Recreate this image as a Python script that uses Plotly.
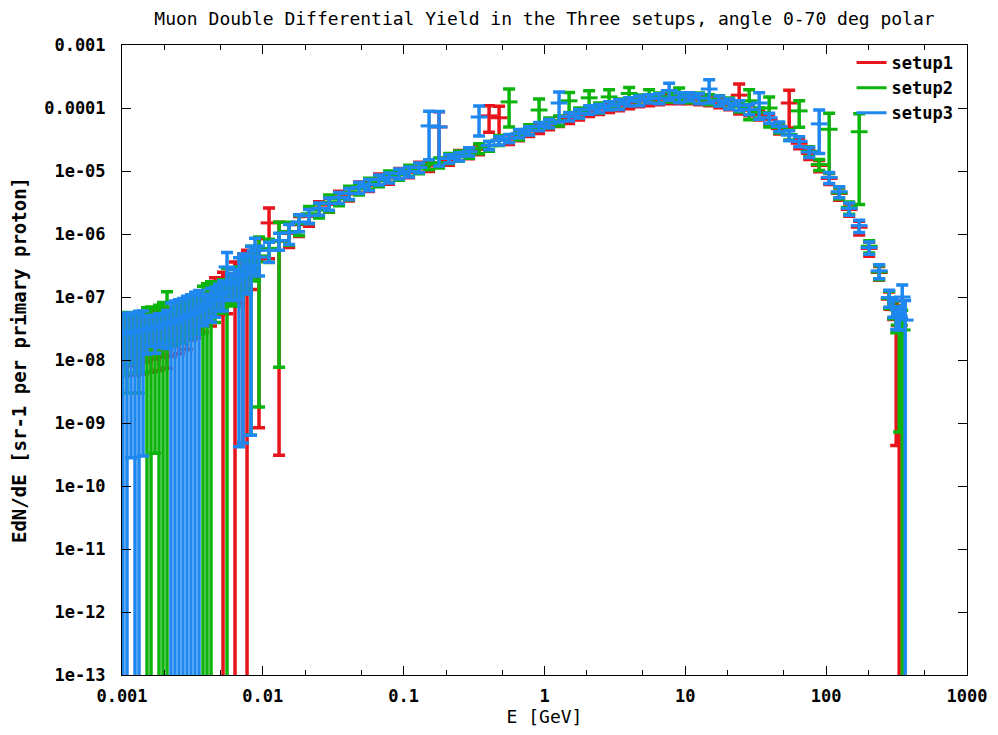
import plotly.graph_objects as go

# ---------------- DATA ----------------
energy_gev = [
    # 0.001 - 0.01 GeV
    1.016e-3, 1.085e-3, 1.159e-3, 1.237e-3, 1.320e-3, 1.410e-3, 1.505e-3, 1.607e-3, 1.716e-3, 1.832e-3,
    1.956e-3, 2.088e-3, 2.228e-3, 2.379e-3, 2.540e-3, 2.712e-3, 2.895e-3, 3.091e-3, 3.300e-3, 3.523e-3,
    3.761e-3, 4.015e-3, 4.287e-3, 4.576e-3, 4.886e-3, 5.216e-3, 5.568e-3, 5.945e-3, 6.347e-3, 6.776e-3,
    7.234e-3, 7.723e-3, 8.245e-3, 8.803e-3, 9.397e-3,
    # 0.01 - 300 GeV
    0.01107, 0.01304, 0.01536, 0.01808, 0.02129, 0.02507, 0.02953, 0.03477, 0.04095, 0.04822,
    0.05679, 0.06688, 0.07876, 0.09275, 0.1092, 0.1286, 0.1515, 0.1784, 0.2101, 0.2474,
    0.2914, 0.3431, 0.4041, 0.4759, 0.5604, 0.6600, 0.7772, 0.9153, 1.078, 1.269,
    1.495, 1.761, 2.074, 2.442, 2.876, 3.387, 3.989, 4.698, 5.533, 6.515,
    7.673, 9.037, 10.64, 12.53, 14.76, 17.39, 20.47, 24.11, 28.40, 33.44,
    39.39, 46.39, 54.63, 64.34, 75.77, 89.24, 105.0, 123.7, 145.7, 171.6,
    202.1, 238.0, 280.3,
    # end point
    299.2, 314.2, 330.0, 346.7, 364.0,
]

setup1_yield = [
    2.6e-8, 2.8e-8, 2.7e-8, 2.9e-8, 2.8e-8, 3.0e-8, 3.1e-8, 3.2e-8, 3.4e-8, 3.4e-8,
    3.7e-8, 3.7e-8, 3.8e-8, 4.1e-8, 4.2e-8, 4.6e-8, 4.9e-8, 5.2e-8, 5.6e-8, 6.1e-8,
    6.8e-8, 7.7e-8, 8.7e-8, 1.3e-7, 1.05e-7, 1.2e-7, 1.35e-7, 1.55e-7, 1.75e-7, 2.0e-7,
    2.4e-7, 2.7e-7, 3.3e-7, 3.8e-7, 4.2e-7,
    1.5e-6, 7.7e-7, 1.02e-6, 1.4e-6, 1.9e-6, 2.6e-6, 2.95e-6, 3.9e-6, 4.3e-6, 5.6e-6,
    5.9e-6, 7.5e-6, 7.7e-6, 9.3e-6, 9.5e-6, 1.17e-5, 1.2e-5, 5.0e-5, 1.5e-5, 1.79e-5,
    1.9e-5, 2.2e-5, 7.5e-5, 7.0e-5, 3.2e-5, 3.7e-5, 4.3e-5, 4.8e-5, 5.5e-5, 6.2e-5,
    6.9e-5, 7.9e-5, 8.9e-5, 9.6e-5, 1.03e-4, 1.1e-4, 1.19e-4, 1.28e-4, 1.32e-4, 1.37e-4,
    1.42e-4, 1.43e-4, 1.42e-4, 1.37e-4, 1.32e-4, 1.23e-4, 1.14e-4, 1.6e-4, 9.2e-5, 7.9e-5,
    6.6e-5, 4.7e-5, 1.2e-4, 2.75e-5, 1.9e-5, 1.22e-5, 7.6e-6, 4.4e-6, 2.45e-6, 1.28e-6,
    5.9e-7, 2.45e-7, 9.2e-8,
    6.3e-8, 4.4e-8, 3.5e-8, None, None,
]
setup1_relerr = [
    0.7, 0.8, 0.7, 0.8, 0.7, 0.8, 0.7, 0.8, 0.7, 0.8,
    0.7, 0.8, 0.7, 0.6, 0.7, 0.6, 0.7, 0.6, 0.6, 0.5,
    0.6, 0.5, 0.6, 0.55, 0.5, 1.05, 0.6, 0.5, 1.05, 0.6,
    0.998, 1.05, 0.6, 0.5, 0.998,
    0.73, 0.9996, 0.4, 0.35, 0.3, 0.25, 0.25, 0.22, 0.22, 0.2,
    0.2, 0.2, 0.2, 0.18, 0.18, 0.18, 0.18, 0.75, 0.18, 0.18,
    0.18, 0.18, 0.45, 0.52, 0.18, 0.18, 0.18, 0.18, 0.18, 0.18,
    0.18, 0.18, 0.18, 0.18, 0.18, 0.18, 0.18, 0.18, 0.18, 0.18,
    0.18, 0.18, 0.18, 0.18, 0.18, 0.18, 0.18, 0.5, 0.18, 0.18,
    0.18, 0.18, 0.6, 0.18, 0.2, 0.2, 0.2, 0.22, 0.22, 0.25,
    0.25, 0.25, 0.3,
    0.3, 0.99, 1.05, None, None,
]

setup2_yield = [
    2.8e-8, 3.0e-8, 2.9e-8, 3.1e-8, 3.0e-8, 3.2e-8, 3.3e-8, 3.4e-8, 3.3e-8, 3.6e-8,
    4.0e-8, 6.0e-8, 4.0e-8, 4.3e-8, 4.5e-8, 4.7e-8, 5.2e-8, 5.5e-8, 6.0e-8, 6.4e-8,
    7.2e-8, 7.9e-8, 8.5e-8, 9.8e-8, 1.1e-7, 1.25e-7, 1.4e-7, 1.5e-7, 1.8e-7, 2.0e-7,
    2.5e-7, 2.7e-7, 3.2e-7, 3.6e-7, 4.5e-7,
    5.9e-7, 7.7e-7, 1.1e-6, 1.45e-6, 2.1e-6, 2.4e-6, 3.2e-6, 3.6e-6, 4.6e-6, 5.2e-6,
    6.4e-6, 7.0e-6, 8.3e-6, 8.7e-6, 1.03e-5, 1.1e-5, 1.28e-5, 1.36e-5, 1.6e-5, 1.76e-5,
    1.95e-5, 2.3e-5, 2.5e-5, 3.1e-5, 1.25e-4, 3.8e-5, 4.6e-5, 9.3e-5, 5.9e-5, 6.3e-5,
    1.3e-4, 8.5e-5, 1.45e-4, 1.02e-4, 1.5e-4, 1.18e-4, 1.7e-4, 1.36e-4, 1.6e-4, 1.46e-4,
    1.52e-4, 1.7e-4, 1.48e-4, 1.46e-4, 1.37e-4, 1.33e-4, 1.22e-4, 1.05e-4, 1.3e-4, 8.5e-5,
    1.0e-4, 4.9e-5, 3.8e-5, 9.0e-5, 2.05e-5, 1.27e-5, 4.6e-5, 4.5e-6, 2.65e-6, 4.2e-5,
    6.4e-7, 2.5e-7, 9.5e-8,
    6.5e-8, 4.5e-8, 3.6e-8, 3.0e-8, None,
]
setup2_relerr = [
    0.8, 0.9, 0.7, 0.8, 0.9, 0.8, 1.05, 1.05, 0.99, 1.05,
    1.05, 1.02, 0.5, 0.6, 0.5, 0.6, 0.5, 0.6, 0.5, 0.6,
    1.05, 1.05, 1.05, 0.6, 0.5, 0.5, 1.05, 0.5, 0.6, 0.5,
    0.55, 0.5, 0.998, 0.5, 0.996,
    0.4, 0.99, 0.4, 0.35, 0.3, 0.25, 0.3, 0.22, 0.25, 0.2,
    0.2, 0.2, 0.2, 0.18, 0.2, 0.18, 0.18, 0.18, 0.18, 0.18,
    0.18, 0.18, 0.18, 0.18, 0.6, 0.18, 0.18, 0.5, 0.18, 0.18,
    0.35, 0.18, 0.3, 0.18, 0.3, 0.18, 0.25, 0.18, 0.22, 0.18,
    0.18, 0.22, 0.18, 0.18, 0.18, 0.18, 0.18, 0.18, 0.5, 0.18,
    0.5, 0.18, 0.18, 0.45, 0.18, 0.2, 0.8, 0.2, 0.22, 0.93,
    0.22, 0.25, 0.3,
    0.3, 0.4, 0.98, 1.05, None,
]

setup3_yield = [
    2.7e-8, 2.6e-8, 2.8e-8, 2.7e-8, 2.9e-8, 3.0e-8, 3.1e-8, 3.3e-8, 3.2e-8, 3.5e-8,
    3.6e-8, 3.8e-8, 3.9e-8, 4.2e-8, 4.4e-8, 4.6e-8, 5.0e-8, 5.3e-8, 5.8e-8, 6.2e-8,
    7.0e-8, 7.6e-8, 8.8e-8, 9.5e-8, 1.1e-7, 1.2e-7, 3.0e-7, 1.6e-7, 1.8e-7, 2.1e-7,
    2.4e-7, 2.8e-7, 3.2e-7, 5.5e-7, 4.3e-7,
    5.5e-7, 7.9e-7, 1.05e-6, 1.55e-6, 1.95e-6, 2.55e-6, 3.05e-6, 3.8e-6, 4.4e-6, 5.5e-6,
    6.1e-6, 7.3e-6, 7.9e-6, 9.1e-6, 9.8e-6, 1.14e-5, 5.2e-5, 5.0e-5, 1.58e-5, 1.70e-5,
    2.03e-5, 7.2e-5, 2.55e-5, 3.05e-5, 3.3e-5, 3.95e-5, 4.4e-5, 5.1e-5, 5.7e-5, 1.2e-4,
    7.3e-5, 8.2e-5, 9.4e-5, 9.9e-5, 1.09e-4, 1.15e-4, 1.27e-4, 1.32e-4, 1.41e-4, 1.43e-4,
    1.9e-4, 1.48e-4, 1.52e-4, 1.43e-4, 2.0e-4, 1.31e-4, 1.18e-4, 1.1e-4, 9.5e-5, 1.2e-4,
    7.0e-5, 5.1e-5, 3.7e-5, 2.95e-5, 2.0e-5, 5.6e-5, 7.9e-6, 4.7e-6, 2.55e-6, 1.36e-6,
    6.1e-7, 2.6e-7, 9.8e-8,
    6.8e-8, 4.7e-8, 5.0e-8, 1.0e-7, 4.3e-8,
]
setup3_relerr = [
    1.05, 1.05, 0.99, 1.05, 1.05, 0.99, 0.6, 0.5, 0.6, 0.55,
    0.5, 0.6, 1.05, 1.05, 1.05, 1.05, 1.05, 1.05, 1.05, 1.05,
    0.5, 0.45, 0.55, 0.5, 0.45, 0.5, 0.7, 0.45, 0.5, 0.998,
    0.998, 0.6, 0.998, 0.55, 0.5,
    0.35, 0.3, 0.35, 0.3, 0.25, 0.22, 0.22, 0.2, 0.2, 0.2,
    0.2, 0.18, 0.18, 0.18, 0.18, 0.18, 0.71, 0.76, 0.15, 0.15,
    0.15, 0.5, 0.15, 0.15, 0.15, 0.15, 0.15, 0.15, 0.15, 0.5,
    0.15, 0.15, 0.15, 0.15, 0.15, 0.18, 0.15, 0.18, 0.15, 0.18,
    0.3, 0.18, 0.15, 0.18, 0.4, 0.18, 0.18, 0.18, 0.18, 0.45,
    0.18, 0.18, 0.18, 0.18, 0.18, 0.66, 0.2, 0.2, 0.22, 0.22,
    0.22, 0.25, 0.3,
    0.3, 0.35, 0.4, 0.55, 1.05,
]

series_names = ["setup1", "setup2", "setup3"]
series_colors = ["#e8141c", "#0cb40c", "#1e88f0"]

x_tickvals = [0.001, 0.01, 0.1, 1, 10, 100, 1000]
x_ticktext = ["0.001", "0.01", "0.1", "1", "10", "100", "1000"]
y_tickvals = [1e-3, 1e-4, 1e-5, 1e-6, 1e-7, 1e-8, 1e-9, 1e-10, 1e-11, 1e-12, 1e-13]
y_ticktext = ["0.001", "0.0001", "1e-05", "1e-06", "1e-07", "1e-08", "1e-09",
              "1e-10", "1e-11", "1e-12", "1e-13"]

title_text = "Muon Double Differential Yield in the Three setups, angle 0-70 deg polar"
x_title = "E [GeV]"
y_title = "EdN/dE [sr-1 per primary proton]"

# ---------------- FIGURE ----------------
MONO = "DejaVu Sans Mono"
fig = go.Figure()

all_series = [
    (setup1_yield, setup1_relerr),
    (setup2_yield, setup2_relerr),
    (setup3_yield, setup3_relerr),
]

for (yv, rel), name, col in zip(all_series, series_names, series_colors):
    err = [None if (y is None or r is None) else y * r for y, r in zip(yv, rel)]
    fig.add_trace(go.Scatter(
        x=energy_gev, y=yv, mode="markers", name=name, legendgroup=name,
        showlegend=False,
        marker=dict(symbol="line-ew", size=12, color=col,
                    line=dict(width=3, color=col)),
        error_y=dict(type="data", array=err, symmetric=True,
                     color=col, thickness=3.5, width=6),
    ))

# legend entries (line samples)
for name, col in zip(series_names, series_colors):
    fig.add_trace(go.Scatter(
        x=[None], y=[None], mode="lines", name=name, legendgroup=name,
        line=dict(color=col, width=3), showlegend=True,
    ))

axis_common = dict(
    type="log", showgrid=False, zeroline=False, automargin=False,
    showline=True, linecolor="black", linewidth=1, mirror="ticks",
    ticks="inside", ticklen=9, tickwidth=1, tickcolor="black",
    tickfont=dict(family=MONO, size=17, color="black", weight="bold"),
)

# the page body has an 8px margin on every side, so the figure is sized
# to make the whole page exactly fill the 998x735 window
fig.update_layout(
    width=982, height=719,
    margin=dict(l=114, r=23, t=37, b=52, autoexpand=False),
    plot_bgcolor="white", paper_bgcolor="white",
    title=dict(text=title_text, x=0.5, xref="paper", xanchor="center",
               y=1 - 11 / 719, yref="container", yanchor="middle",
               font=dict(family=MONO, size=18, color="black")),
    legend=dict(x=0.99, xanchor="right", y=1.0, yanchor="top",
                bgcolor="rgba(0,0,0,0)", tracegroupgap=0,
                font=dict(family=MONO, size=17, color="black", weight="bold")),
    showlegend=True,
)

fig.update_xaxes(
    **axis_common, range=[-3, 3],
    tickmode="array", tickvals=x_tickvals, ticktext=x_ticktext,
    ticklabelstandoff=6,
    minor=dict(ticks="inside", ticklen=5, tickcolor="black", dtick="D2", showgrid=False),
    title=dict(text=x_title, standoff=12,
               font=dict(family=MONO, size=18, color="black")),
)
fig.update_yaxes(
    **axis_common, range=[-13, -3],
    tickmode="array", tickvals=y_tickvals, ticktext=y_ticktext,
    ticklabelstandoff=12,
    title=dict(text=y_title,
               font=dict(family=MONO, size=19, color="black", weight="bold")),
)

fig.write_html("out.html")
